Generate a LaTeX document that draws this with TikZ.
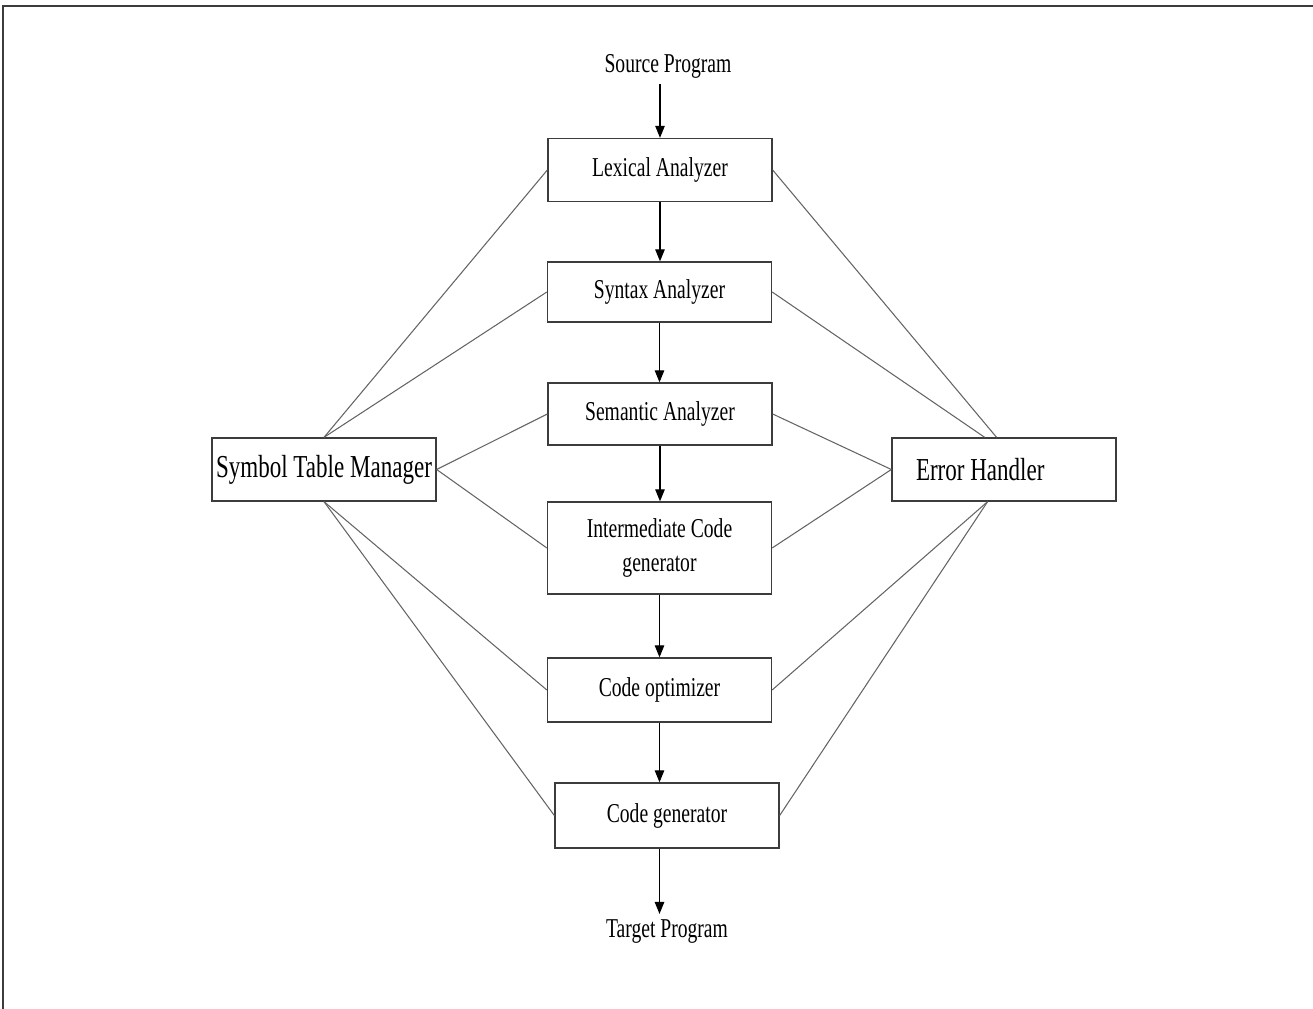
\documentclass[tikz,border=0pt]{standalone}
\usepackage{fontspec}
\setmainfont{Liberation Serif}[FakeStretch=0.72]
\usetikzlibrary{arrows.meta, calc}
\definecolor{boxgray}{RGB}{60, 60, 60}
\definecolor{linkgray}{RGB}{100, 100, 100}

\begin{document}
\begin{tikzpicture}[
    stage/.style={draw=boxgray, line width=0.75pt, minimum width=4.48cm, minimum height=1.26cm, inner sep=2pt, font=\fontsize{15.5}{19.5}\selectfont},
    side/.style={stage, font=\fontsize{18.2}{22}\selectfont},
    flow/.style={-{Triangle[length=2.4mm, width=1.9mm]}, line width=0.65pt, black},
    link/.style={draw=linkgray, line width=0.6pt}
  ]
  \useasboundingbox (0,0) rectangle (26.26,20.18);
  \draw[line width=1.1pt, boxgray] (0.06,0) -- (0.06,20.06) -- (26.26,20.06);

  % the chain of phases
  \node[font=\fontsize{15.5}{19.5}\selectfont] (src) at (13.36,18.86){Source Program};
  \node[stage] (lex) at (13.2,16.78){Lexical Analyzer};
  \node[stage, minimum height=1.2cm] (syn) at (13.19,14.34){Syntax Analyzer};
  \node[stage, minimum height=1.24cm] (sem) at (13.2,11.9){Semantic Analyzer};
  \node[stage, minimum height=1.84cm, align=center] (inter) at (13.19,9.22){Intermediate Code\\generator};
  \node[stage, minimum height=1.28cm] (opt) at (13.19,6.38){Code optimizer};
  \node[stage, minimum height=1.3cm] (cg) at (13.34,3.87){Code generator};
  \node[font=\fontsize{15.5}{19.5}\selectfont] (tgt) at (13.34,1.54){Target Program};

  % the two helpers
  \node[side] (sym) at (6.48,10.79){Symbol Table Manager};
  \node[side] (err) at (20.08,10.79){\makebox[3.52cm][l]{Error Handler}};

  \draw[flow] (lex.north |- src.south) -- (lex.north);
  \draw[flow] (lex.south) -- (lex.south |- syn.north);
  \draw[flow] (syn.south) -- (syn.south |- sem.north);
  \draw[flow] (sem.south) -- (sem.south |- inter.north);
  \draw[flow] (inter.south) -- (inter.south |- opt.north);
  \draw[flow] (opt.south) -- (opt.south |- cg.north);
  \draw[flow] (opt.south |- cg.south) -- (opt.south |- tgt.north);

  % links to symbol table
  \draw[link] (sym.north) -- (lex.west);
  \draw[link] (sym.north) -- (syn.west);
  \draw[link] (sym.east) -- (sem.west);
  \draw[link] (sym.east) -- (inter.west);
  \draw[link] (sym.south) -- (opt.west);
  \draw[link] (sym.south) -- (cg.west);

  % links to error handler
  \draw[link] (err.103) -- (lex.east);
  \draw[link] (err.121) -- (syn.east);
  \draw[link] (err.west) -- (sem.east);
  \draw[link] (err.west) -- (inter.east);
  \draw[link] (err.243) -- (opt.east);
  \draw[link] (err.243) -- (cg.east);
\end{tikzpicture}
\end{document}
